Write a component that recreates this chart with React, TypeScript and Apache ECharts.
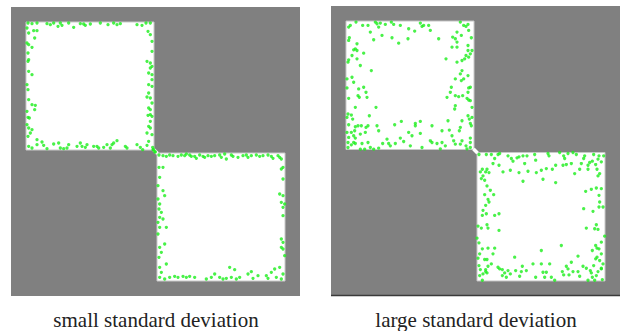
import React, { useEffect, useRef } from "react";
import * as echarts from "echarts";

// Panel captions
const captions = ["small standard deviation", "large standard deviation"];

// Square layout in panel units (panel spans 0..289, y downward)
const squareOrigins = [15, 146];
const squareSide = 128;

// Points, in a per-square reading frame where the square spans 12..396
const smallA: number[][] = [
  [18,15],[30,17],[45,15],[75,17],[85,20],[95,15],[108,25],[115,15],[120,22],[140,15],[155,28],[175,17],[185,18],[190,22],[205,18],[235,15],[258,20],[275,15],[285,20],[295,17],[345,20],[360,22],[372,15],[385,15],
  [15,30],[20,45],[35,38],[45,38],[38,60],[15,75],[20,80],[30,88],[18,105],[20,125],[18,130],[20,160],[30,170],[15,200],[18,215],[20,245],[30,260],[40,262],[38,275],[15,280],[18,298],[22,300],[15,320],[20,330],[30,335],[25,345],[18,355],[45,365],
  [20,385],[30,390],[45,380],[60,372],[65,382],[75,392],[95,378],[110,375],[115,390],[125,392],[135,390],[140,380],[165,385],[175,375],[180,385],[190,388],[195,380],[215,385],[225,385],[230,390],[245,388],[255,380],[265,390],[270,380],[275,375],[285,368],[310,385],[315,390],[345,380],[355,388],[362,395],[375,382],[380,370],
  [378,40],[385,50],[390,70],[390,100],[375,130],[385,135],[385,150],[390,145],[380,165],[390,170],[390,185],[380,200],[390,205],[380,225],[375,237],[385,240],[390,255],[380,270],[385,275],[385,290],[378,292],[390,295],[385,310],[380,325],[385,330],[375,345],[390,350],[395,395],[392,388],[400,402]
];

const smallB: number[][] = [
  [5,8],[0,2],[18,18],[30,20],[40,22],[50,18],[60,20],[75,22],[85,18],[95,20],[100,15],[110,18],[115,22],[125,22],[130,28],[140,18],[150,22],[155,25],[165,20],[175,22],[185,20],[200,18],[205,25],[215,15],[220,30],[235,18],[240,22],[255,25],[270,20],[280,18],[285,25],[295,20],[310,18],[320,22],[330,20],[345,18],[355,22],[360,28],[375,20],[380,25],[385,30],
  [18,55],[30,55],[20,85],[15,110],[30,125],[35,140],[15,150],[20,165],[18,180],[25,190],[20,205],[30,210],[15,220],[20,235],[40,235],[15,255],[35,285],[20,295],[25,310],[18,325],[40,345],[20,355],[25,370],
  [20,385],[35,390],[50,385],[65,382],[75,385],[90,382],[100,385],[110,382],[125,385],[160,390],[175,385],[185,375],[200,385],[210,390],[220,388],[230,355],[235,385],[245,362],[250,390],[260,385],[285,375],[295,368],[300,388],[315,380],[340,380],[345,388],[355,370],[365,360],[370,385],[380,355],[385,390],[390,375],
  [385,60],[390,55],[390,90],[380,135],[390,140],[385,160],[395,165],[390,175],[390,200],[385,270],[390,280],[390,300],[395,320],[385,295]
];

const largeA: number[][] = [
  [42,15],[62,25],[78,25],[85,45],[100,15],[105,20],[110,30],[115,18],[130,22],[148,15],[155,22],[175,25],[200,35],[218,42],[235,18],[240,28],[245,25],[260,25],[265,40],[290,65],[355,15],[365,25],[372,28],[378,22],[345,45],[358,55],[380,40],[20,30],[25,25],[22,62],[20,70],[95,68],[120,55],[150,62],[170,78],[198,65],[332,60],[340,65],[345,75],[388,62],[378,85],[345,90],[330,90],
  [45,80],[40,95],[35,98],[45,100],[65,108],[30,115],[45,125],[20,128],[18,135],[55,145],[88,160],[345,135],[360,130],[378,100],[385,110],[390,100],[372,115],[380,120],[368,125],[312,125],[360,160],[355,170],[340,185],[378,175],[365,185],[358,190],
  [15,185],[30,180],[35,195],[15,212],[50,215],[65,210],[72,225],[48,235],[52,240],[75,240],[20,243],[40,270],[102,270],[328,210],[325,225],[340,235],[350,238],[362,235],[380,212],[385,210],[378,225],[375,243],[380,248],[385,250],[315,240],[340,265],[338,275],[390,270],
  [18,290],[15,300],[28,293],[32,305],[82,295],[390,300],[378,295],[382,305],[360,310],[318,310],[385,318],[388,325],[20,322],[40,328],[48,325],[58,325],[72,330],[78,325],[105,325],[110,340],[158,322],[178,312],[220,318],[220,325],[235,312],[270,325],[300,340],[322,338],[355,330],[352,340],
  [15,345],[28,345],[38,340],[35,355],[55,350],[70,345],[20,360],[40,362],[18,375],[35,375],[28,382],[40,378],[60,378],[18,390],[55,395],[68,395],[78,375],[85,390],[95,395],[110,392],[122,378],[135,365],[140,378],[145,385],[160,378],[175,362],[185,372],[200,345],[205,385],[210,355],[235,348],[240,390],[265,370],[270,375],[285,378],[295,394],[300,375],[310,385],[330,355],[335,370],[340,380],[355,380],[360,370],[372,385],[385,375],[385,362],[375,394],[385,390]
];

const largeB: number[][] = [
  [18,18],[40,18],[55,18],[75,18],[80,15],[105,22],[115,30],[120,38],[132,28],[138,25],[150,22],[155,45],[162,22],[165,68],[185,18],[188,35],[190,72],[205,65],[210,92],[220,60],[225,15],[228,22],[238,62],[248,50],[248,102],[260,12],[270,50],[272,22],[275,30],[280,48],[285,15],[295,45],[300,12],[305,75],[310,18],[320,62],[325,45],[332,30],[335,22],[345,62],[345,50],[350,42],[358,38],[362,18],[368,48],[372,62],[375,32],[378,22],[385,40],[392,22],[380,75],[375,82],[28,62],[22,70],[30,82],[35,95],[25,90],[38,70],[42,62],[48,72],[60,45],[65,30],[78,50],[90,70],[112,65],[138,72],[150,98],
  [42,112],[52,125],[35,138],[62,138],[45,152],[38,170],[48,160],[30,185],[28,200],[40,195],[65,200],[78,195],[15,232],[25,238],[42,228],[45,238],[78,245],[12,268],[18,282],[28,300],[45,298],[65,298],[20,315],[15,328],[35,332],[42,332],[60,315],
  [338,128],[355,122],[370,118],[385,120],[378,140],[380,160],[378,175],[390,175],[360,188],[332,180],[370,228],[340,238],[365,240],[375,242],[395,262],[385,280],[368,290],[372,298],[378,300],[358,305],[385,315],[372,325],[380,335],[368,330],[390,345],[362,350],[385,358],[355,372],[265,290],[205,305],[125,325],[315,322],
  [18,350],[22,362],[38,362],[45,352],[55,345],[30,375],[38,368],[42,372],[20,380],[28,394],[75,355],[80,360],[88,362],[95,372],[88,380],[100,385],[105,365],[112,375],[128,365],[145,368],[140,382],[148,352],[160,365],[180,345],[188,385],[205,345],[210,370],[215,385],[220,370],[230,345],[235,385],[245,394],[268,368],[272,378],[280,352],[285,360],[288,378],[295,340],[300,368],[315,368],[320,382],[330,352],[340,358],[345,394],[352,365],[358,385],[370,380],[375,368],[385,360],[388,392],[365,394]
];

const READ_MIN = 12;
const READ_SCALE = 3;

function toPanel(points: number[][], origin: number): number[][] {
  return points.map(([x, y]) => [origin + (x - READ_MIN) / READ_SCALE, origin + (y - READ_MIN) / READ_SCALE]);
}

const grids = [
  { left: 11, top: 7, width: 289, height: 289 },
  { left: 331, top: 6, width: 289, height: 290 },
];

export default function App() {
  const ref = useRef<HTMLDivElement>(null);
  useEffect(() => {
    if (!ref.current) return;
    const chart = echarts.init(ref.current, null, { renderer: "svg" });
    const panels = [
      [smallA, smallB],
      [largeA, largeB],
    ];
    const series: any[] = [];
    panels.forEach((pair, i) => {
      const a = squareOrigins[0];
      const b = squareOrigins[1];
      const s = squareSide;
      series.push({
        type: "line",
        xAxisIndex: i,
        yAxisIndex: i,
        data: [[a + s - 0.5, a + s - 0.5], [b + 0.5, b + 0.5]],
        symbol: "none",
        lineStyle: { color: "#ffffff", width: 3.5 },
        z: 1,
        markArea: {
          silent: true,
          itemStyle: { color: "#ffffff", borderColor: "#c9c9c9", borderWidth: 1 },
          data: [
            [{ coord: [a, a] }, { coord: [a + s, a + s] }],
            [{ coord: [b, b] }, { coord: [b + s, b + s] }],
          ],
        },
      });
      series.push({
        type: "scatter",
        xAxisIndex: i,
        yAxisIndex: i,
        data: [...toPanel(pair[0], a), ...toPanel(pair[1], b)],
        symbol: "circle",
        symbolSize: 3.3,
        itemStyle: { color: "#1cee1c" },
        z: 3,
      });
    });
    chart.setOption({
      animation: false,
      grid: grids.map((g) => ({
        ...g,
        show: true,
        backgroundColor: "#808080",
        borderWidth: 0,
        containLabel: false,
      })),
      xAxis: grids.map((_, i) => ({
        type: "value",
        gridIndex: i,
        min: 0,
        max: 289,
        show: false,
      })),
      yAxis: grids.map((_, i) => ({
        type: "value",
        gridIndex: i,
        min: 0,
        max: 289,
        inverse: true,
        show: false,
      })),
      graphic: [
        {
          type: "line",
          shape: { x1: 331, y1: 295.5, x2: 620, y2: 295.5 },
          style: { stroke: "#3a3a3a", lineWidth: 1.5 },
          z: 10,
        },
        ...captions.map((t, i) => ({
          type: "text",
          x: i === 0 ? 156 : 476,
          y: 320,
          style: {
            text: t,
            fill: "#222222",
            font: "21px 'Liberation Serif', 'Times New Roman', serif",
            textAlign: "center",
            textVerticalAlign: "middle",
          },
        })),
      ],
      series,
    });
    return () => chart.dispose();
  }, []);
  return (
    <div
      ref={ref}
      style={{ position: "fixed", left: 0, top: 0, width: 620, height: 331, background: "#ffffff" }}
    />
  );
}
